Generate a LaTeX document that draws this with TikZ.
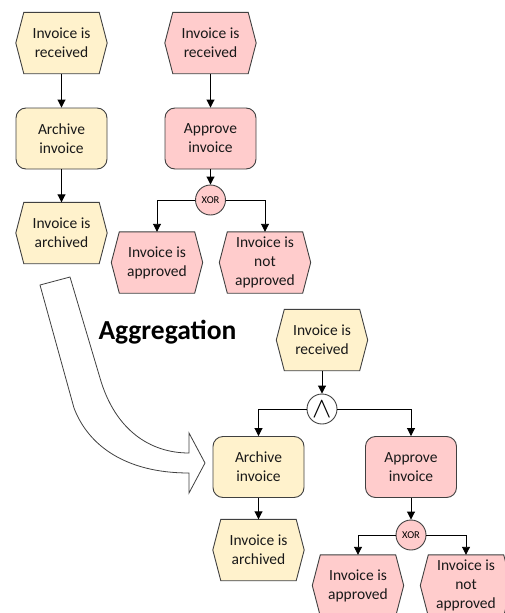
\documentclass[tikz,border=0pt]{standalone}
\usepackage{fontspec}
\usepackage{graphicx}
\setmainfont{Carlito}
\usetikzlibrary{arrows.meta,backgrounds}

\definecolor{evyellow}{HTML}{FFF2CC}
\definecolor{evpink}{HTML}{FFCCCC}
\definecolor{outline}{HTML}{404040}

\tikzset{
  box/.style={minimum width=91pt, minimum height=61pt, inner sep=0pt, align=center,
    font=\fontsize{15.5}{19}\selectfont, text=black!90},
  fn/.style={box, draw=outline, line width=0.9pt, rounded corners=10pt},
  evt/.style={box},
  yel/.style={fill=evyellow},
  pnk/.style={fill=evpink},
  conn/.style={circle, draw=outline, line width=0.9pt, minimum size=30pt, inner sep=0pt},
  xorconn/.style={conn, fill=evpink, font=\fontsize{10.5}{10.5}\selectfont},
  flow/.style={draw=black, line width=0.9pt, -{Triangle[length=8pt,width=8pt]}},
  hexline/.style={draw=outline, line width=0.9pt},
}

% hexagonal event outline around a named node
\newcommand\eventhex[2]{%
  \path[hexline, fill=#2] (#1.west) -- ([xshift=8pt]#1.north west) -- ([xshift=-8pt]#1.north east)
    -- (#1.east) -- ([xshift=-8pt]#1.south east) -- ([xshift=8pt]#1.south west) -- cycle;}

\begin{document}
\begin{tikzpicture}[x=1pt, y=-1pt]
\useasboundingbox (0,0) rectangle (505,613);

% ---- archiving process ----
\node[evt] (aRec) at (61.5,43) {Invoice is\\received};
\node[fn, yel] (aFn) at (61.5,138.5) {Archive\\invoice};
\node[evt] (aDone) at (61.5,233) {Invoice is\\archived};

% ---- approval process ----
\node[evt] (pRec) at (210.5,43) {Invoice is\\received};
\node[fn, pnk] (pFn) at (210.5,138.5) {Approve\\invoice};
\node[xorconn] (pXor) at (210.5,200) {XOR};
\node[evt] (pYes) at (157,262.5) {Invoice is\\approved};
\node[evt] (pNo) at (265,262.5) {Invoice is\\not\\approved};

% ---- aggregated process ----
\node[evt] (gRec) at (322,340) {Invoice is\\received};
\node[conn, fill=white, font=\fontsize{20}{20}\selectfont] (gAnd) at (322,409)
  {\scalebox{1.4}{$\wedge$}};
\node[fn, yel] (gArc) at (258.5,467) {Archive\\invoice};
\node[fn, pnk] (gApp) at (411,467) {Approve\\invoice};
\node[evt] (gDone) at (258.5,550) {Invoice is\\archived};
\node[xorconn] (gXor) at (411,535) {XOR};
\node[evt] (gYes) at (358,585.5) {Invoice is\\approved};
\node[evt] (gNo) at (466,585.5) {Invoice is\\not\\approved};

\node[anchor=base west, font=\bfseries\fontsize{27.5}{27.5}\selectfont] (agg) at (95,339) {Aggregation};

\begin{scope}[on background layer]
  \eventhex{aRec}{evyellow}
  \eventhex{aDone}{evyellow}
  \eventhex{pRec}{evpink}
  \eventhex{pYes}{evpink}
  \eventhex{pNo}{evpink}
  \eventhex{gRec}{evyellow}
  \eventhex{gDone}{evyellow}
  \eventhex{gYes}{evpink}
  \eventhex{gNo}{evpink}
\end{scope}

% control flow
\draw[flow] (aRec) -- (aFn);
\draw[flow] (aFn) -- (aDone);
\draw[flow] (pRec) -- (pFn);
\draw[flow] (pFn) -- (pXor);
\draw[flow] (pXor.west) -| (pYes.north);
\draw[flow] (pXor.east) -| (pNo.north);

\draw[flow] (gRec) -- (gAnd);
\draw[flow] (gAnd.west) -| (gArc.north);
\draw[flow] (gAnd.east) -| (gApp.north);
\draw[flow] (gArc) -- (gDone);
\draw[flow] (gApp) -- (gXor);
\draw[flow] (gXor.west) -| (gYes.north);
\draw[flow] (gXor.east) -| (gNo.north);

% large curved arrow
\draw[draw=outline, line width=0.8pt, fill=white]
  (40,285) -- (70,277) -- (100,378)
  .. controls (115,430) and (150,453) .. (189,453)
  -- (189,433) -- (205,463) -- (189,493) -- (189,473)
  .. controls (125,473) and (88,445) .. (74,408) -- cycle;
\end{tikzpicture}
\end{document}
